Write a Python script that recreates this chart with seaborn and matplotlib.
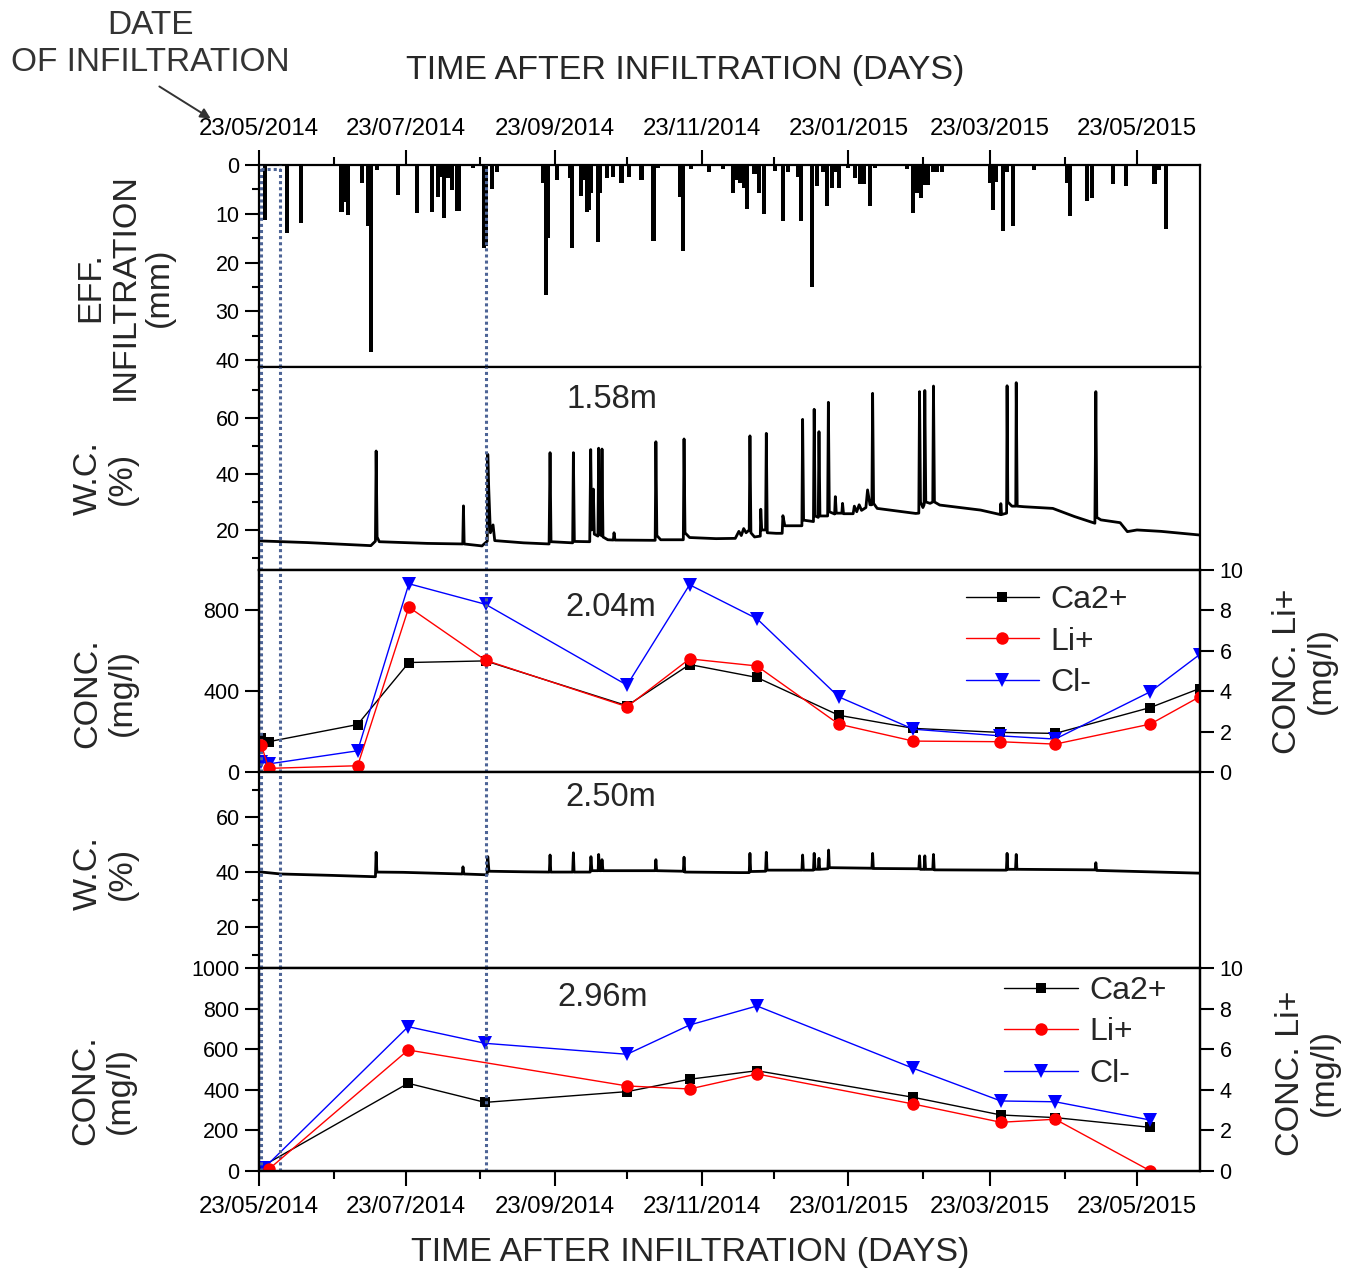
import numpy as np
import pandas as pd
import matplotlib
matplotlib.use("Agg")
import matplotlib.pyplot as plt
import matplotlib.dates as mdates
from matplotlib.ticker import MultipleLocator, NullLocator
import seaborn as sns

START = pd.Timestamp("2014-05-23")
END_DAY = 391.2

# ---------------- data ----------------
# effective infiltration (days after infiltration, mm)
infil_day = [2.5, 11.5, 17.5, 34.3, 35.3, 36.3, 37.0, 42.7, 45.5, 46.5, 49.0,
             57.6, 65.8, 71.8, 74.5, 76.2, 77.0, 78.0, 79.0, 80.2, 82.5, 83.3,
             88.8, 93.5, 94.5, 96.7, 98.8, 118.0, 119.5, 120.3, 123.8, 129.3,
             130.3, 134.0, 135.5, 136.3, 137.2, 138.0, 141.0, 141.8, 144.8,
             147.0, 150.7, 154.0, 159.0, 164.0, 166.0, 175.2, 176.2, 179.5,
             187.0, 193.0, 197.2, 198.6, 200.0, 201.7, 202.8, 206.0, 208.0,
             210.0, 214.6, 218.0, 220.0, 224.2, 225.2, 230.0, 231.9, 234.6,
             236.0, 238.1, 239.5, 241.2, 245.0, 247.8, 249.9, 251.5, 254.0,
             256.0, 269.3, 272.0, 273.7, 275.3, 276.5, 278.3, 280.2, 282.0,
             283.9, 304.0, 305.0, 306.4, 309.2, 310.9, 313.4, 322.0, 335.8,
             337.2, 344.2, 346.2, 355.2, 360.4, 372.3, 374.3, 377.1]
infil_mm = [11.2, 14.0, 11.8, 9.7, 7.5, 7.5, 10.2, 3.7, 12.4, 38.3, 1.0,
            6.1, 9.9, 9.7, 6.5, 2.4, 10.9, 2.6, 2.6, 5.2, 9.5, 9.5,
            0.7, 17.0, 16.5, 4.9, 1.4, 3.7, 26.7, 15.0, 3.1, 2.6,
            17.0, 6.3, 3.1, 9.7, 9.2, 5.8, 15.8, 5.8, 2.6,
            2.4, 3.7, 2.4, 3.1, 15.6, 0.7, 6.5, 17.7, 0.9,
            1.5, 0.8, 5.8, 3.1, 3.7, 4.8, 9.0, 1.8, 5.8,
            10.1, 1.2, 11.4, 1.4, 2.4, 11.5, 25.0, 4.3, 1.5,
            8.5, 4.8, 1.5, 4.8, 0.7, 2.6, 3.9, 3.9, 8.5,
            0.7, 0.8, 9.9, 5.8, 6.7, 4.1, 4.1, 1.5, 1.5,
            1.5, 3.7, 9.3, 3.4, 13.5, 1.4, 12.4, 1.0, 3.7,
            10.5, 7.3, 6.8, 3.9, 4.4, 3.9, 1.0, 13.1]

# water content at 1.58 m (%)
wc158_day = [0, 20, 46.5, 48.4, 48.7, 49.1, 50, 70, 84.7, 85.0, 85.3, 92.7,
             94.9, 95.1, 95.5, 96.2, 97.3, 98, 110, 120.6, 121.0, 121.4,
             130.4, 130.7, 131.1, 137.5, 137.9, 138.3, 139.0, 139.4, 140.9,
             141.2, 141.6, 142.3, 142.6, 143.0, 145, 147.3, 147.6, 148.0,
             164.7, 165.0, 165.4, 167, 176.4, 176.7, 177.1, 179, 190, 198,
             199.5, 200.5, 201.5, 202.5, 203.8, 204.1, 204.5, 206, 208.4,
             208.6, 209, 210.6, 210.9, 211.3, 215, 217.5, 217.8, 218.6, 225.7,
             226.0, 226.4, 230.5, 230.8, 231.2, 232.5, 232.8, 233.2, 236.4,
             236.7, 237.1, 239.3, 239.6, 240.0, 242.3, 242.6, 243.0, 247,
             247.5, 248.5, 249.5, 250.5, 252.3, 253, 254, 254.8, 255.1, 255.5,
             257, 273, 274.3, 274.6, 275, 276, 276.5, 276.8, 277.2, 279,
             280.1, 280.4, 280.8, 283, 300, 308.2, 308.4, 308.7, 310.8, 311.0,
             311.3, 313, 314.6, 314.8, 315.2, 318, 330, 339, 347.5, 347.9,
             348.3, 350, 358, 361, 365, 375, 391]
wc158 = [16.1, 15.5, 14.4, 16.0, 48.2, 17.5, 15.8, 15.2, 15.0, 28.6, 15.0, 14.3,
         16.0, 47.0, 35.0, 19.0, 21.8, 16.2, 15.4, 15.0, 47.6, 15.8,
         15.4, 47.6, 15.9, 15.8, 48.7, 20.0, 34.6, 18.5, 17.8,
         49.2, 18.5, 18.0, 48.9, 17.5, 16.5, 16.4, 19.0, 16.4,
         16.3, 51.5, 18.0, 16.5, 16.5, 52.5, 19.0, 17.3, 16.9, 17.0,
         19.5, 18.0, 20.5, 19.0, 20.0, 53.6, 19.0, 17.5, 17.8,
         27.4, 20.0, 20.0, 54.5, 19.0, 18.8, 18.8, 25.1, 21.5, 21.5,
         59.5, 23.5, 23.0, 63.1, 25.0, 24.5, 55.1, 25.0, 25.0,
         65.6, 26.5, 25.7, 31.9, 26.0, 26.0, 29.5, 25.8, 25.8,
         28.5, 26.5, 29.0, 27.0, 28.0, 34.3, 29.0, 29.0, 68.8, 29.5,
         27.7, 25.9, 26.0, 69.4, 30.0, 28.0, 29.0, 69.8, 30.0, 29.5,
         30.0, 71.4, 30.0, 28.9, 27.1, 25.5, 29.4, 25.5, 26.0, 71.5,
         30.0, 28.5, 28.5, 72.6, 28.5, 28.3, 27.7, 24.8, 22.4, 69.4,
         24.5, 23.6, 22.6, 19.4, 20.0, 19.5, 18.2]

# water content at 2.50 m (%)
wc250_day = [0, 9, 30, 48.4, 48.7, 49.0, 60, 84.5, 84.8, 85.2, 94.8, 95.1, 95.6,
             110, 120.7, 121.0, 121.3, 130.4, 130.7, 131.0, 137.7, 138.0, 138.4,
             141.0, 141.2, 141.6, 142.3, 142.6, 143.0, 164.7, 165.0, 165.3,
             176.4, 176.7, 177.0, 200, 203.8, 204.1, 204.4, 210.6, 210.9, 211.2,
             225.7, 226.0, 226.3, 230.5, 230.8, 231.2, 232.5, 232.8, 233.1,
             236.5, 236.8, 237.1, 254.8, 255.1, 255.4, 274.3, 274.6, 274.9,
             276.5, 276.8, 277.1, 280.1, 280.4, 280.7, 310.7, 311.0, 311.3,
             314.5, 314.8, 315.1, 347.6, 347.9, 348.2, 391]
wc250 = [40.1, 39.3, 38.8, 38.3, 47.2, 40.0, 39.9, 39.3, 41.9, 39.3, 39.0, 45.6, 40.3,
         40.1, 40.0, 46.2, 40.0, 40.0, 47.0, 40.0, 40.0, 45.6, 40.5,
         40.5, 46.4, 40.5, 40.5, 44.5, 40.5, 40.5, 44.5, 40.5,
         40.3, 45.4, 40.0, 39.8, 39.8, 46.8, 40.2, 40.3, 47.2, 40.7,
         40.7, 46.2, 40.7, 40.7, 46.8, 41.0, 41.0, 45.0, 41.0,
         41.2, 48.0, 41.6, 41.4, 46.8, 41.3, 41.2, 45.9, 41.0,
         41.0, 45.9, 41.0, 41.0, 46.4, 40.8, 40.7, 46.8, 41.0,
         41.0, 46.4, 41.0, 40.8, 43.4, 40.6, 39.6]

# concentrations at 2.04 m
days_204 = [1, 4, 41, 62.3, 94.2, 153, 179, 207, 241, 272, 308, 331, 370.5, 391]
ca_204 = [170, 150, 235, 542, 550, 328, 532, 468, 281, 216, 196, 191, 319, 413]
li_204 = [1.33, 0.18, 0.31, 8.16, 5.53, 3.23, 5.6, 5.25, 2.37, 1.53, 1.5, 1.38, 2.37, 3.72]
cl_204 = [51, 40, 105, 932, 830, 430, 927, 759, 372, 212, 179, 163, 397, 581]

# concentrations at 2.96 m
ca296_day = [1, 62, 94, 153, 179, 207, 272, 308.4, 331, 370.5]
ca_296 = [21, 432, 338, 391, 452, 494, 363, 276, 263, 215]
li296_day = [4, 62, 153, 179, 207, 272, 308.4, 331, 370.5]
li_296 = [0.08, 5.96, 4.19, 4.04, 4.78, 3.3, 2.4, 2.55, 0.01]
cl296_day = [2, 62, 94, 153, 179, 207, 272, 308.4, 331, 370.5]
cl_296 = [13, 711, 629, 575, 719, 813, 506, 345, 341, 251]

# marked dates (dotted lines), days after infiltration
mark_days = [0.8, 8.7, 94.4]

depth_labels = ["1.58m", "2.04m", "2.50m", "2.96m"]
series_names = ["Ca2+", "Li+", "Cl-"]


def to_dates(days):
    return START + pd.to_timedelta(np.asarray(days, dtype=float), unit="D")


# ---------------- style ----------------
sns.set_style("ticks")
plt.rcParams["font.family"] = ["Liberation Sans", "DejaVu Sans"]
plt.rcParams["axes.linewidth"] = 1.6
plt.rcParams["axes.edgecolor"] = "black"
plt.rcParams["xtick.color"] = "black"
plt.rcParams["ytick.color"] = "black"

W_PX, H_PX = 1347, 1270
fig = plt.figure(figsize=(W_PX / 100, H_PX / 100), dpi=100)
left = 259 / W_PX
width = 941 / W_PX
edges = [165, 367, 570, 772, 968, 1171]
axes = []
for i in range(5):
    top, bot = edges[i], edges[i + 1]
    ax = fig.add_axes([left, 1 - bot / H_PX, width, (bot - top) / H_PX])
    axes.append(ax)
ax1, ax2, ax3, ax4, ax5 = axes

xmin, xmax = START, START + pd.Timedelta(days=END_DAY)
major_loc = mdates.MonthLocator(bymonth=[1, 3, 5, 7, 9, 11], bymonthday=23)
minor_loc = mdates.MonthLocator(bymonthday=23)
fmt = mdates.DateFormatter("%d/%m/%Y")

for ax in axes:
    ax.set_xlim(xmin, xmax)
    ax.xaxis.set_major_locator(major_loc)
    ax.xaxis.set_minor_locator(minor_loc)
    ax.xaxis.set_major_formatter(fmt)
    ax.tick_params(axis="y", which="major", length=10, width=1.5,
                   direction="out", labelsize=15.5, pad=4)
    ax.tick_params(axis="y", which="minor", length=5, width=1.5, direction="out")
    ax.tick_params(axis="x", which="major", length=11, width=1.5, direction="out",
                   labelsize=17.3)
    ax.tick_params(axis="x", which="minor", length=5.5, width=1.5, direction="out")
    for s in ax.spines.values():
        s.set_visible(True)
        s.set_linewidth(1.6)

# panel 1: effective infiltration bars
ax1.bar(to_dates(infil_day), infil_mm, width=1.7, color="black", align="center",
        linewidth=0)
ax1.set_ylim(41.4, 0)
ax1.yaxis.set_major_locator(MultipleLocator(10))
ax1.yaxis.set_minor_locator(MultipleLocator(5))
ax1.xaxis.tick_top()
ax1.tick_params(axis="x", which="both", top=True, bottom=False,
                labeltop=True, labelbottom=False, pad=7)
ax1.hlines(0.8, to_dates([mark_days[0]])[0], to_dates([mark_days[1]])[0],
           colors="#4d6496", linestyles=(0, (1, 1)), linewidth=2.2, zorder=5)

# panel 2: W.C. 1.58 m
sns.lineplot(x=to_dates(wc158_day), y=wc158, ax=ax2, color="black",
             linewidth=2.0, estimator=None, sort=False)
ax2.set_ylim(5.7, 78.2)
ax2.yaxis.set_major_locator(MultipleLocator(20))
ax2.yaxis.set_minor_locator(MultipleLocator(10))

# panel 4: W.C. 2.50 m
sns.lineplot(x=to_dates(wc250_day), y=wc250, ax=ax4, color="black",
             linewidth=2.0, estimator=None, sort=False)
ax4.set_ylim(5.1, 76.4)
ax4.yaxis.set_major_locator(MultipleLocator(20))
ax4.yaxis.set_minor_locator(MultipleLocator(10))


def conc_panel(ax, ca_d, ca, li_d, li, cl_d, cl, major, legend_anchor):
    axr = ax.twinx()
    sns.lineplot(x=to_dates(ca_d), y=ca, ax=ax, color="black", linewidth=1.0,
                 marker="s", markersize=7, markeredgewidth=0, label=series_names[0],
                 legend=False, estimator=None, sort=False)
    sns.lineplot(x=to_dates(cl_d), y=cl, ax=ax, color="blue", linewidth=1.0,
                 marker="v", markersize=10, markeredgewidth=0, label=series_names[2],
                 legend=False, estimator=None, sort=False)
    sns.lineplot(x=to_dates(li_d), y=li, ax=axr, color="red", linewidth=1.0,
                 marker="o", markersize=9, markeredgewidth=0, label=series_names[1],
                 legend=False, estimator=None, sort=False)
    ax.set_ylim(0, 1000)
    axr.set_ylim(0, 10)
    ax.yaxis.set_major_locator(MultipleLocator(major))
    ax.yaxis.set_minor_locator(NullLocator())
    axr.yaxis.set_major_locator(MultipleLocator(2))
    axr.yaxis.set_minor_locator(NullLocator())
    axr.tick_params(axis="y", which="major", length=10, width=1.5,
                    direction="out", labelsize=15.5, pad=4)
    axr.set_xlim(xmin, xmax)
    h1, l1 = ax.get_legend_handles_labels()
    h2, l2 = axr.get_legend_handles_labels()
    hd = dict(zip(l1 + l2, h1 + h2))
    axr.legend([hd[n] for n in series_names], series_names, loc="upper left",
               bbox_to_anchor=legend_anchor, frameon=False, fontsize=23,
               handlelength=2.3, handletextpad=0.35, labelspacing=0.36,
               borderpad=0, borderaxespad=0)
    return axr


ax3r = conc_panel(ax3, days_204, ca_204, days_204, li_204, days_204, cl_204,
                  400, (0.751, 0.925))
ax5r = conc_panel(ax5, ca296_day, ca_296, li296_day, li_296, cl296_day, cl_296,
                  200, (0.792, 0.962))

for ax in [ax2, ax3, ax4]:
    ax.tick_params(axis="x", which="both", bottom=False, top=False,
                   labelbottom=False, labeltop=False)
ax5.tick_params(axis="x", which="both", bottom=True, top=False,
                labelbottom=True, pad=7)

for ax in axes + [ax3r, ax5r]:
    ax.set_xlabel("")
    ax.set_ylabel("")

# dotted marker lines through all panels
for ax in axes:
    for d in mark_days:
        ax.axvline(to_dates([d])[0], color="#4d6496", linestyle=(0, (1, 1)),
                   linewidth=2.2, zorder=6)

# depth labels
for txt, xy in zip(depth_labels, [(612, 400), (611, 607), (611, 797), (603, 997)]):
    fig.text(xy[0] / W_PX, 1 - xy[1] / H_PX, txt, fontsize=23.5,
             ha="center", va="center")

# y labels
ylabels = [("EFF.\nINFILTRATION\n(mm)", 125, 287),
           ("W.C.\n(%)", 105, 478),
           ("CONC.\n(mg/l)", 105, 693),
           ("W.C.\n(%)", 105, 873),
           ("CONC.\n(mg/l)", 103, 1090),
           ("CONC. Li+\n(mg/l)", 1304, 671),
           ("CONC. Li+\n(mg/l)", 1307, 1073)]
for txt, x, y in ylabels:
    fig.text(x / W_PX, 1 - y / H_PX, txt, fontsize=24.5, rotation=90,
             ha="center", va="center", multialignment="center", linespacing=1.12)

# axis titles
fig.text(685 / W_PX, 1 - 70 / H_PX, "TIME AFTER INFILTRATION (DAYS)",
         fontsize=24.5, ha="center", va="center")
fig.text(690 / W_PX, 1 - 1253 / H_PX, "TIME AFTER INFILTRATION (DAYS)",
         fontsize=24.5, ha="center", va="center")

# date of infiltration annotation
fig.text(150 / W_PX, 1 - 44 / H_PX, "DATE\nOF INFILTRATION", fontsize=24,
         ha="center", va="center", multialignment="center", color="#333333",
         linespacing=1.25)
ax1.annotate("", xy=(213 / W_PX, 1 - 120 / H_PX), xycoords="figure fraction",
             xytext=(157 / W_PX, 1 - 85 / H_PX), textcoords="figure fraction",
             arrowprops=dict(arrowstyle="-|>", color="#333333", lw=1.4,
                             mutation_scale=15))

fig.savefig("out.png", dpi=100)
